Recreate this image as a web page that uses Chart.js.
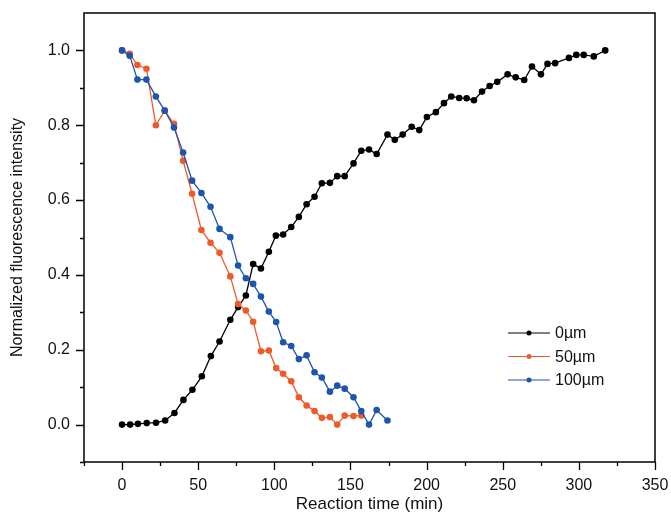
<!DOCTYPE html>
<html>
<head>
<meta charset="utf-8">
<script src="https://cdn.jsdelivr.net/npm/chart.js@4.4.1/dist/chart.umd.min.js"></script>
<style>
    html, body { margin: 0; padding: 0; background: #fff; }
    #wrap { width: 671px; height: 515px; }
</style>
</head>
<body>
<div id="wrap"><canvas id="chart"></canvas></div>
<script>
// series names and colours
const seriesLabels = ['0µm', '50µm', '100µm'];
const seriesColors = ['#000000', '#EF5A2A', '#1D55AE'];

// 0 µm: reaction time (min) and normalized intensity
const time0um = [0, 5.3, 10.4, 16.2, 22.3, 28.3, 34.4, 40.3, 46.2, 52.4, 58.3, 64.0, 71.1,
    76.2, 81.3, 86.1, 91.2, 96.4, 101.0, 105.8, 111.1, 116.1, 121.2, 126.4, 131.2, 136.5,
    141.3, 146.2, 152.0, 157.1, 162.2, 167.2, 174.3, 179.1, 184.3, 190.2, 195.2, 200.2,
    206.1, 211.4, 216.2, 221.4, 226.3, 231.1, 236.4, 241.4, 246.4, 253.2, 258.5, 264.1,
    269.2, 275.1, 279.4, 284.4, 293.5, 298.3, 303.2, 309.8, 317.3];
const value0um = [0.0, 0.0, 0.002, 0.004, 0.005, 0.011, 0.031, 0.066, 0.093, 0.129, 0.183, 0.222, 0.28,
    0.314, 0.345, 0.429, 0.417, 0.462, 0.505, 0.508, 0.528, 0.555, 0.589, 0.609, 0.645, 0.646,
    0.664, 0.664, 0.698, 0.732, 0.735, 0.723, 0.775, 0.761, 0.775, 0.796, 0.787, 0.822,
    0.835, 0.859, 0.877, 0.873, 0.872, 0.867, 0.89, 0.905, 0.916, 0.936, 0.928, 0.921,
    0.957, 0.936, 0.964, 0.966, 0.98, 0.988, 0.988, 0.984, 1.0];

// 50 µm and 100 µm share the same sampling times
const timeShared = [0, 5.0, 10.1, 16.0, 22.2, 28.0, 34.1, 40.1, 46.0, 52.1, 58.1, 64.0, 71.1,
    76.2, 81.3, 86.1, 91.2, 96.4, 101.2, 105.8, 111.1, 116.1, 121.2, 126.4, 131.2, 136.5,
    141.3, 146.2, 152.0, 157.1, 162.2, 167.2, 174.3];
const value50um = [1.0, 0.991, 0.961, 0.951, 0.8, 0.839, 0.804, 0.705, 0.617, 0.52, 0.486, 0.459, 0.396,
    0.322, 0.305, 0.275, 0.196, 0.198, 0.151, 0.136, 0.116, 0.073, 0.051, 0.036, 0.018, 0.02,
    0.0, 0.024, 0.023, 0.024];
const value100um = [1.0, 0.986, 0.922, 0.922, 0.877, 0.839, 0.794, 0.727, 0.652, 0.619, 0.582, 0.523, 0.501,
    0.425, 0.391, 0.376, 0.342, 0.302, 0.274, 0.22, 0.21, 0.175, 0.185, 0.14, 0.126, 0.088,
    0.104, 0.096, 0.073, 0.036, 0.0, 0.039, 0.011];

// axis ticks
const xMajorTicks = [0, 50, 100, 150, 200, 250, 300, 350];
const xMinorTicks = [-25, 25, 75, 125, 175, 225, 275, 325];
const yMajorTicks = [0, 0.2, 0.4, 0.6, 0.8, 1.0];
const yMinorTicks = [-0.1, 0.1, 0.3, 0.5, 0.7, 0.9];

const FONT = '"Liberation Sans", Arial, sans-serif';

function toPoints(xs, ys) {
    return ys.map((y, i) => ({ x: xs[i], y: y }));
}

// frame, outward tick marks and the line+dot legend
const framePlugin = {
    id: 'frame',
    afterDraw(chart) {
        const ctx = chart.ctx;
        const area = chart.chartArea;
        const xs = chart.scales.x;
        const ys = chart.scales.y;
        ctx.save();
        ctx.strokeStyle = '#000';
        ctx.lineWidth = 1.5;
        ctx.strokeRect(area.left, area.top, area.right - area.left, area.bottom - area.top);

        ctx.lineWidth = 1.3;
        ctx.beginPath();
        xMajorTicks.forEach(v => {
            const px = Math.round(xs.getPixelForValue(v)) + 0.5;
            ctx.moveTo(px, area.bottom); ctx.lineTo(px, area.bottom + 8);
        });
        xMinorTicks.forEach(v => {
            const px = Math.round(xs.getPixelForValue(v)) + 0.5;
            ctx.moveTo(px, area.bottom); ctx.lineTo(px, area.bottom + 4);
        });
        yMajorTicks.forEach(v => {
            const py = Math.round(ys.getPixelForValue(v)) + 0.5;
            ctx.moveTo(area.left, py); ctx.lineTo(area.left - 8, py);
        });
        yMinorTicks.forEach(v => {
            const py = Math.round(ys.getPixelForValue(v)) + 0.5;
            ctx.moveTo(area.left, py); ctx.lineTo(area.left - 4, py);
        });
        ctx.stroke();

        // legend
        const lx = 508, ly = 333, rowH = 23.5;
        ctx.font = '16px ' + FONT;
        ctx.textBaseline = 'middle';
        ctx.textAlign = 'left';
        chart.data.datasets.forEach((ds, i) => {
            const y = ly + i * rowH;
            ctx.strokeStyle = ds.borderColor;
            ctx.fillStyle = ds.borderColor;
            ctx.lineWidth = 1.2;
            ctx.beginPath();
            ctx.moveTo(lx, y); ctx.lineTo(lx + 42, y);
            ctx.stroke();
            ctx.beginPath();
            ctx.arc(lx + 21, y, 2.5, 0, Math.PI * 2);
            ctx.fill();
            ctx.fillStyle = '#111';
            ctx.fillText(ds.label, lx + 47, y + 1);
        });
        ctx.restore();
    }
};

const datasets = [
    { data: toPoints(time0um, value0um), order: 3 },
    { data: toPoints(timeShared, value50um), order: 2 },
    { data: toPoints(timeShared, value100um), order: 1 }
].map((ds, i) => Object.assign(ds, {
    label: seriesLabels[i],
    borderColor: seriesColors[i],
    backgroundColor: seriesColors[i],
    borderWidth: 1.3,
    pointRadius: 3.3,
    pointBorderWidth: 0,
    pointHoverRadius: 3.3,
    tension: 0,
    fill: false
}));

new Chart(document.getElementById('chart').getContext('2d'), {
    type: 'line',
    data: { datasets: datasets },
    options: {
        responsive: true,
        maintainAspectRatio: false,
        animation: false,
        layout: { padding: { top: 13, right: 16, left: 0, bottom: 0 } },
        plugins: {
            legend: { display: false },
            tooltip: { enabled: false }
        },
        scales: {
            x: {
                type: 'linear',
                min: -25,
                max: 350,
                afterBuildTicks: scale => { scale.ticks = xMajorTicks.map(v => ({ value: v })); },
                afterFit: scale => {
                    scale.height = 53;
                    scale.paddingLeft = 0;
                    scale.paddingRight = 0;
                },
                grid: { display: false, drawTicks: false },
                border: { display: false },
                ticks: { padding: 14, color: '#111', font: { family: FONT, size: 16 }, maxRotation: 0 },
                title: {
                    display: true,
                    text: 'Reaction time (min)',
                    color: '#111',
                    font: { family: FONT, size: 17 },
                    padding: { top: 0, bottom: 0 }
                }
            },
            y: {
                type: 'linear',
                min: -0.1,
                max: 1.1,
                afterBuildTicks: scale => { scale.ticks = yMajorTicks.map(v => ({ value: v })); },
                afterFit: scale => {
                    scale.width = 84;
                    scale.paddingTop = 0;
                    scale.paddingBottom = 0;
                },
                grid: { display: false, drawTicks: false },
                border: { display: false },
                ticks: {
                    padding: 14,
                    color: '#111',
                    font: { family: FONT, size: 16 },
                    callback: v => Number(v).toFixed(1)
                },
                title: {
                    display: true,
                    text: 'Normalized fluorescence intensity',
                    color: '#111',
                    font: { family: FONT, size: 16 },
                    padding: { top: 8, bottom: 0 }
                }
            }
        }
    },
    plugins: [framePlugin]
});
</script>
</body>
</html>
